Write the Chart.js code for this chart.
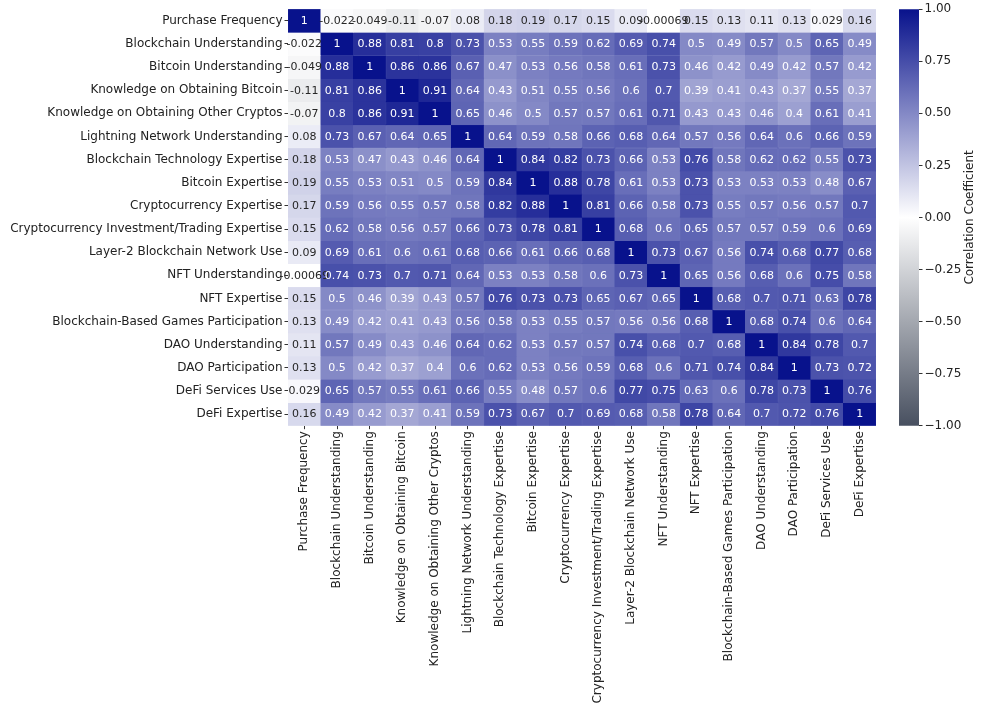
<!DOCTYPE html>
<html>
<head>
<meta charset="utf-8">
<script src="https://cdn.jsdelivr.net/npm/chart.js@4.4.1/dist/chart.umd.min.js"></script>
<style>
  html, body { margin: 0; padding: 0; background: #fff; }
  #wrap { position: relative; width: 981px; height: 718px; }
  #main { position: absolute; left: 0; top: 0; width: 880px; height: 718px; }
  #side { position: absolute; left: 880px; top: 0; width: 101px; height: 718px; }
</style>
</head>
<body>
<div id="wrap">
  <div id="main"><canvas id="heat"></canvas></div>
  <div id="side"><canvas id="cbar"></canvas></div>
</div>
<script>
// Correlation heatmap of crypto survey variables
const variables = [
  'Purchase Frequency', 'Blockchain Understanding', 'Bitcoin Understanding',
  'Knowledge on Obtaining Bitcoin', 'Knowledge on Obtaining Other Cryptos',
  'Lightning Network Understanding', 'Blockchain Technology Expertise',
  'Bitcoin Expertise', 'Cryptocurrency Expertise',
  'Cryptocurrency Investment/Trading Expertise', 'Layer-2 Blockchain Network Use',
  'NFT Understanding', 'NFT Expertise', 'Blockchain-Based Games Participation',
  'DAO Understanding', 'DAO Participation', 'DeFi Services Use', 'DeFi Expertise'
];

const purchaseFrequency   = [1, -0.022, -0.049, -0.11, -0.07, 0.08, 0.18, 0.19, 0.17, 0.15, 0.09, -0.00069, 0.15, 0.13, 0.11, 0.13, 0.029, 0.16];
const blockchainUnd       = [-0.022, 1, 0.88, 0.81, 0.8, 0.73, 0.53, 0.55, 0.59, 0.62, 0.69, 0.74, 0.5, 0.49, 0.57, 0.5, 0.65, 0.49];
const bitcoinUnd          = [-0.049, 0.88, 1, 0.86, 0.86, 0.67, 0.47, 0.53, 0.56, 0.58, 0.61, 0.73, 0.46, 0.42, 0.49, 0.42, 0.57, 0.42];
const obtainBitcoin       = [-0.11, 0.81, 0.86, 1, 0.91, 0.64, 0.43, 0.51, 0.55, 0.56, 0.6, 0.7, 0.39, 0.41, 0.43, 0.37, 0.55, 0.37];
const obtainOther         = [-0.07, 0.8, 0.86, 0.91, 1, 0.65, 0.46, 0.5, 0.57, 0.57, 0.61, 0.71, 0.43, 0.43, 0.46, 0.4, 0.61, 0.41];
const lightningUnd        = [0.08, 0.73, 0.67, 0.64, 0.65, 1, 0.64, 0.59, 0.58, 0.66, 0.68, 0.64, 0.57, 0.56, 0.64, 0.6, 0.66, 0.59];
const blockchainTechExp   = [0.18, 0.53, 0.47, 0.43, 0.46, 0.64, 1, 0.84, 0.82, 0.73, 0.66, 0.53, 0.76, 0.58, 0.62, 0.62, 0.55, 0.73];
const bitcoinExp          = [0.19, 0.55, 0.53, 0.51, 0.5, 0.59, 0.84, 1, 0.88, 0.78, 0.61, 0.53, 0.73, 0.53, 0.53, 0.53, 0.48, 0.67];
const cryptoExp           = [0.17, 0.59, 0.56, 0.55, 0.57, 0.58, 0.82, 0.88, 1, 0.81, 0.66, 0.58, 0.73, 0.55, 0.57, 0.56, 0.57, 0.7];
const tradingExp          = [0.15, 0.62, 0.58, 0.56, 0.57, 0.66, 0.73, 0.78, 0.81, 1, 0.68, 0.6, 0.65, 0.57, 0.57, 0.59, 0.6, 0.69];
const layer2Use           = [0.09, 0.69, 0.61, 0.6, 0.61, 0.68, 0.66, 0.61, 0.66, 0.68, 1, 0.73, 0.67, 0.56, 0.74, 0.68, 0.77, 0.68];
const nftUnd              = [-0.00069, 0.74, 0.73, 0.7, 0.71, 0.64, 0.53, 0.53, 0.58, 0.6, 0.73, 1, 0.65, 0.56, 0.68, 0.6, 0.75, 0.58];
const nftExp              = [0.15, 0.5, 0.46, 0.39, 0.43, 0.57, 0.76, 0.73, 0.73, 0.65, 0.67, 0.65, 1, 0.68, 0.7, 0.71, 0.63, 0.78];
const gamesParticipation  = [0.13, 0.49, 0.42, 0.41, 0.43, 0.56, 0.58, 0.53, 0.55, 0.57, 0.56, 0.56, 0.68, 1, 0.68, 0.74, 0.6, 0.64];
const daoUnd              = [0.11, 0.57, 0.49, 0.43, 0.46, 0.64, 0.62, 0.53, 0.57, 0.57, 0.74, 0.68, 0.7, 0.68, 1, 0.84, 0.78, 0.7];
const daoParticipation    = [0.13, 0.5, 0.42, 0.37, 0.4, 0.6, 0.62, 0.53, 0.56, 0.59, 0.68, 0.6, 0.71, 0.74, 0.84, 1, 0.73, 0.72];
const defiUse             = [0.029, 0.65, 0.57, 0.55, 0.61, 0.66, 0.55, 0.48, 0.57, 0.6, 0.77, 0.75, 0.63, 0.6, 0.78, 0.73, 1, 0.76];
const defiExp             = [0.16, 0.49, 0.42, 0.37, 0.41, 0.59, 0.73, 0.67, 0.7, 0.69, 0.68, 0.58, 0.78, 0.64, 0.7, 0.72, 0.76, 1];

const corr = [
  purchaseFrequency, blockchainUnd, bitcoinUnd, obtainBitcoin, obtainOther,
  lightningUnd, blockchainTechExp, bitcoinExp, cryptoExp, tradingExp, layer2Use,
  nftUnd, nftExp, gamesParticipation, daoUnd, daoParticipation, defiUse, defiExp
];

const colorbarTicks = [-1, -0.75, -0.5, -0.25, 0, 0.25, 0.5, 0.75, 1];

const FONT = '"DejaVu Sans", "Liberation Sans", sans-serif';
const LOW = [72, 80, 96];    // -1
const MID = [255, 255, 255]; // 0
const HIGH = [8, 18, 140];   // +1
const TEXT_DARK = '#262626';

function mixRgb(v) {
  const t = Math.min(1, Math.abs(v));
  const end = v >= 0 ? HIGH : LOW;
  return MID.map((m, i) => Math.round(m + (end[i] - m) * t));
}
function colorFor(v) {
  const c = mixRgb(v);
  return `rgb(${c[0]},${c[1]},${c[2]})`;
}
function luminance(v) {
  const lin = mixRgb(v).map(x => {
    x /= 255;
    return x <= 0.03928 ? x / 12.92 : Math.pow((x + 0.055) / 1.055, 2.4);
  });
  return 0.2126 * lin[0] + 0.7152 * lin[1] + 0.0722 * lin[2];
}
function fmt(v) {
  return String(Number(v.toPrecision(2)));
}

Chart.defaults.font.family = FONT;
Chart.defaults.color = '#222';
Chart.defaults.animation = false;

// one dataset per row, each cell a floating bar spanning [row, row + 1]
const datasets = corr.map((row, r) => ({
  label: variables[r],
  data: row.map(() => [r, r + 1]),
  backgroundColor: row.map(colorFor),
  borderColor: row.map(colorFor),
  borderWidth: 0.5,
  borderSkipped: false,
  barPercentage: 1,
  categoryPercentage: 1,
  grouped: false
}));

const cellText = {
  id: 'cellText',
  afterDatasetsDraw(chart) {
    const ctx = chart.ctx;
    ctx.save();
    ctx.font = '11px ' + FONT;
    ctx.textAlign = 'center';
    ctx.textBaseline = 'middle';
    chart.data.datasets.forEach((ds, r) => {
      chart.getDatasetMeta(r).data.forEach((bar, c) => {
        const v = corr[r][c];
        const p = bar.getCenterPoint();
        ctx.fillStyle = luminance(v) < 0.408 ? '#ffffff' : TEXT_DARK;
        ctx.fillText(fmt(v), p.x, p.y + 0.5);
      });
    });
    ctx.restore();
  }
};

new Chart(document.getElementById('heat'), {
  type: 'bar',
  data: { labels: variables, datasets },
  options: {
    responsive: true,
    maintainAspectRatio: false,
    layout: { padding: { top: 8.3, right: 4, left: 0, bottom: 0 } },
    plugins: { legend: { display: false }, tooltip: { enabled: false } },
    scales: {
      x: {
        type: 'category',
        offset: true,
        grid: { offset: false, drawOnChartArea: false, tickLength: 3.5, color: '#333', lineWidth: 1 },
        border: { display: false },
        ticks: { autoSkip: false, minRotation: 90, maxRotation: 90, padding: 2, color: '#222', font: { size: 12 } },
        afterFit(scale) { scale.height = 292.3; }
      },
      y: {
        type: 'linear',
        min: 0,
        max: variables.length,
        reverse: true,
        grid: { drawOnChartArea: false, tickLength: 3.5, color: '#333', lineWidth: 1 },
        border: { display: false },
        afterBuildTicks(scale) {
          scale.ticks = variables.map((_, i) => ({ value: i + 0.5 }));
        },
        ticks: {
          autoSkip: false,
          padding: 2,
          color: '#222',
          font: { size: 12 },
          callback: v => variables[Math.floor(v)]
        },
        afterFit(scale) { scale.width = 288; }
      }
    }
  },
  plugins: [cellText]
});

// colour bar: one floating bar from -1 to 1 filled with the colormap gradient
const cbarTitle = {
  id: 'cbarTitle',
  afterDraw(chart) {
    const ctx = chart.ctx;
    const area = chart.chartArea;
    ctx.save();
    ctx.translate(90, (area.top + area.bottom) / 2);
    ctx.rotate(-Math.PI / 2);
    ctx.font = '12px ' + FONT;
    ctx.fillStyle = '#222';
    ctx.textAlign = 'center';
    ctx.textBaseline = 'middle';
    ctx.fillText('Correlation Coefficient', 0, 0);
    ctx.restore();
  }
};

new Chart(document.getElementById('cbar'), {
  type: 'bar',
  data: {
    labels: ['scale'],
    datasets: [{
      data: [[colorbarTicks[0], colorbarTicks[colorbarTicks.length - 1]]],
      backgroundColor(ctx) {
        const chart = ctx.chart;
        if (!chart.chartArea) return colorFor(0);
        const y = chart.scales.y;
        const g = chart.ctx.createLinearGradient(0, y.getPixelForValue(1), 0, y.getPixelForValue(-1));
        g.addColorStop(0, colorFor(1));
        g.addColorStop(0.5, colorFor(0));
        g.addColorStop(1, colorFor(-1));
        return g;
      },
      borderWidth: 0,
      barPercentage: 1,
      categoryPercentage: 1
    }]
  },
  options: {
    responsive: true,
    maintainAspectRatio: false,
    layout: { padding: { top: 8.3, left: 19, right: 0, bottom: 292.3 } },
    plugins: { legend: { display: false }, tooltip: { enabled: false } },
    scales: {
      x: { display: false },
      y: {
        position: 'right',
        min: -1,
        max: 1,
        grid: { drawOnChartArea: false, tickLength: 3.5, color: '#333' },
        border: { display: false },
        afterBuildTicks(scale) {
          scale.ticks = colorbarTicks.map(v => ({ value: v }));
        },
        ticks: {
          padding: 2,
          color: '#222',
          font: { size: 12 },
          callback: v => (v < 0 ? '\u2212' : '') + Math.abs(v).toFixed(2)
        },
        afterFit(scale) { scale.width = 62; }
      }
    }
  },
  plugins: [cbarTitle]
});
</script>
</body>
</html>
